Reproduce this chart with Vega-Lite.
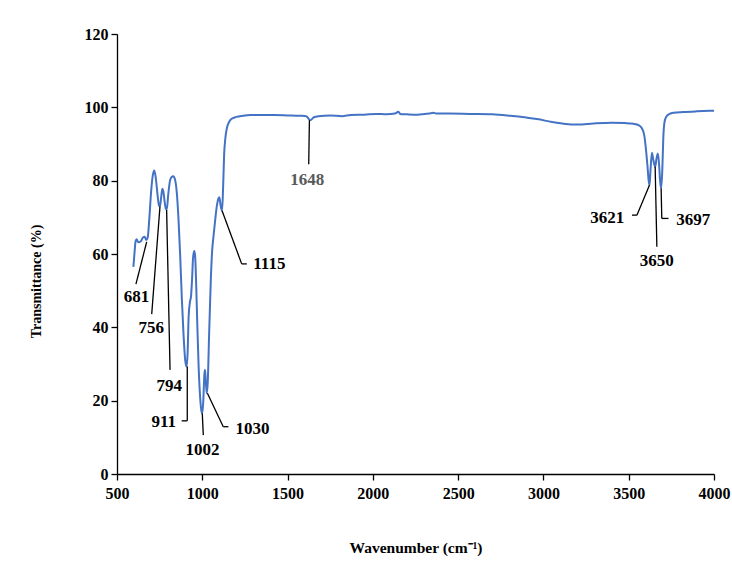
{
  "$schema": "https://vega.github.io/schema/vega-lite/v6.json",
  "width": 597,
  "height": 440,
  "autosize": "none",
  "padding": {"left": 117, "top": 34, "right": 18, "bottom": 97},
  "background": "white",
  "config": {
    "view": {"stroke": null},
    "font": "Liberation Serif",
    "axis": {
      "grid": false,
      "domainColor": "black",
      "domainWidth": 1.3,
      "tickColor": "black",
      "tickWidth": 1.3,
      "tickSize": 6,
      "labelFont": "Liberation Serif",
      "labelFontWeight": "bold",
      "labelFontSize": 16,
      "labelColor": "black",
      "labelFlush": false,
      "titleFont": "Liberation Serif",
      "titleFontWeight": "bold",
      "titleFontSize": 14,
      "titleColor": "black"
    }
  },
  "datasets": {
    "spectrum": [
      {"wavenumber": 596, "transmittance": 56.5},
      {"wavenumber": 603, "transmittance": 60.5},
      {"wavenumber": 609, "transmittance": 63.5},
      {"wavenumber": 615, "transmittance": 64},
      {"wavenumber": 625, "transmittance": 63.2},
      {"wavenumber": 640, "transmittance": 63.5},
      {"wavenumber": 652, "transmittance": 64.5},
      {"wavenumber": 662, "transmittance": 64.7},
      {"wavenumber": 672, "transmittance": 63.8},
      {"wavenumber": 680, "transmittance": 64.5},
      {"wavenumber": 690, "transmittance": 70},
      {"wavenumber": 700, "transmittance": 77},
      {"wavenumber": 710, "transmittance": 81.5},
      {"wavenumber": 719, "transmittance": 82.8},
      {"wavenumber": 728, "transmittance": 80.5},
      {"wavenumber": 738, "transmittance": 76},
      {"wavenumber": 746, "transmittance": 73.3},
      {"wavenumber": 752, "transmittance": 73},
      {"wavenumber": 759, "transmittance": 75.5},
      {"wavenumber": 766, "transmittance": 77.8},
      {"wavenumber": 772, "transmittance": 77},
      {"wavenumber": 780, "transmittance": 74},
      {"wavenumber": 787, "transmittance": 72.2},
      {"wavenumber": 792, "transmittance": 72.2},
      {"wavenumber": 800, "transmittance": 76},
      {"wavenumber": 810, "transmittance": 79.8},
      {"wavenumber": 820, "transmittance": 81},
      {"wavenumber": 830, "transmittance": 81.2},
      {"wavenumber": 840, "transmittance": 80.3},
      {"wavenumber": 850, "transmittance": 77},
      {"wavenumber": 860, "transmittance": 70},
      {"wavenumber": 870, "transmittance": 60},
      {"wavenumber": 880, "transmittance": 48},
      {"wavenumber": 890, "transmittance": 38},
      {"wavenumber": 900, "transmittance": 31},
      {"wavenumber": 908, "transmittance": 29.3},
      {"wavenumber": 914, "transmittance": 33},
      {"wavenumber": 920, "transmittance": 43},
      {"wavenumber": 928, "transmittance": 47},
      {"wavenumber": 934, "transmittance": 48.5},
      {"wavenumber": 940, "transmittance": 53},
      {"wavenumber": 946, "transmittance": 59},
      {"wavenumber": 953, "transmittance": 60.8},
      {"wavenumber": 958, "transmittance": 59.5},
      {"wavenumber": 964, "transmittance": 52},
      {"wavenumber": 970, "transmittance": 42},
      {"wavenumber": 978, "transmittance": 30},
      {"wavenumber": 986, "transmittance": 22},
      {"wavenumber": 994, "transmittance": 17.5},
      {"wavenumber": 1000, "transmittance": 16.5},
      {"wavenumber": 1006, "transmittance": 20},
      {"wavenumber": 1012, "transmittance": 27},
      {"wavenumber": 1016, "transmittance": 28.4},
      {"wavenumber": 1021, "transmittance": 25},
      {"wavenumber": 1026, "transmittance": 22},
      {"wavenumber": 1032, "transmittance": 25},
      {"wavenumber": 1040, "transmittance": 38},
      {"wavenumber": 1050, "transmittance": 53},
      {"wavenumber": 1058, "transmittance": 61},
      {"wavenumber": 1065, "transmittance": 64.5},
      {"wavenumber": 1075, "transmittance": 69},
      {"wavenumber": 1085, "transmittance": 73},
      {"wavenumber": 1095, "transmittance": 75.2},
      {"wavenumber": 1100, "transmittance": 75.5},
      {"wavenumber": 1108, "transmittance": 73},
      {"wavenumber": 1116, "transmittance": 71.8},
      {"wavenumber": 1122, "transmittance": 78},
      {"wavenumber": 1128, "transmittance": 87},
      {"wavenumber": 1135, "transmittance": 91.5},
      {"wavenumber": 1145, "transmittance": 94.5},
      {"wavenumber": 1155, "transmittance": 95.8},
      {"wavenumber": 1170, "transmittance": 96.8},
      {"wavenumber": 1200, "transmittance": 97.4},
      {"wavenumber": 1240, "transmittance": 97.7},
      {"wavenumber": 1280, "transmittance": 97.9},
      {"wavenumber": 1350, "transmittance": 97.9},
      {"wavenumber": 1420, "transmittance": 97.9},
      {"wavenumber": 1500, "transmittance": 97.8},
      {"wavenumber": 1573, "transmittance": 97.7},
      {"wavenumber": 1610, "transmittance": 97.6},
      {"wavenumber": 1632, "transmittance": 96.5},
      {"wavenumber": 1655, "transmittance": 97.3},
      {"wavenumber": 1680, "transmittance": 97.6},
      {"wavenumber": 1750, "transmittance": 97.8},
      {"wavenumber": 1820, "transmittance": 97.6},
      {"wavenumber": 1870, "transmittance": 97.9},
      {"wavenumber": 1950, "transmittance": 98.0},
      {"wavenumber": 2020, "transmittance": 98.2},
      {"wavenumber": 2080, "transmittance": 98.1},
      {"wavenumber": 2130, "transmittance": 98.3},
      {"wavenumber": 2150, "transmittance": 98.8},
      {"wavenumber": 2160, "transmittance": 98.2},
      {"wavenumber": 2200, "transmittance": 98.1},
      {"wavenumber": 2260, "transmittance": 98.0},
      {"wavenumber": 2330, "transmittance": 98.3},
      {"wavenumber": 2356, "transmittance": 98.5},
      {"wavenumber": 2370, "transmittance": 98.3},
      {"wavenumber": 2450, "transmittance": 98.3},
      {"wavenumber": 2570, "transmittance": 98.2},
      {"wavenumber": 2700, "transmittance": 98.1},
      {"wavenumber": 2805, "transmittance": 97.7},
      {"wavenumber": 2900, "transmittance": 97.2},
      {"wavenumber": 2962, "transmittance": 96.8},
      {"wavenumber": 3050, "transmittance": 96.0},
      {"wavenumber": 3120, "transmittance": 95.5},
      {"wavenumber": 3160, "transmittance": 95.3},
      {"wavenumber": 3200, "transmittance": 95.3},
      {"wavenumber": 3294, "transmittance": 95.6},
      {"wavenumber": 3400, "transmittance": 95.8},
      {"wavenumber": 3480, "transmittance": 95.7},
      {"wavenumber": 3528, "transmittance": 95.5},
      {"wavenumber": 3560, "transmittance": 95.1},
      {"wavenumber": 3577, "transmittance": 94.3},
      {"wavenumber": 3591, "transmittance": 92.4},
      {"wavenumber": 3600, "transmittance": 89},
      {"wavenumber": 3610, "transmittance": 84},
      {"wavenumber": 3617, "transmittance": 80},
      {"wavenumber": 3622, "transmittance": 78.8},
      {"wavenumber": 3628, "transmittance": 83},
      {"wavenumber": 3636, "transmittance": 87.6},
      {"wavenumber": 3645, "transmittance": 85.5},
      {"wavenumber": 3655, "transmittance": 83.8},
      {"wavenumber": 3663, "transmittance": 86},
      {"wavenumber": 3671, "transmittance": 87.4},
      {"wavenumber": 3678, "transmittance": 84.5},
      {"wavenumber": 3684, "transmittance": 80},
      {"wavenumber": 3690, "transmittance": 77.9},
      {"wavenumber": 3697, "transmittance": 83},
      {"wavenumber": 3703, "transmittance": 92},
      {"wavenumber": 3710, "transmittance": 96},
      {"wavenumber": 3720, "transmittance": 97.4},
      {"wavenumber": 3740, "transmittance": 98.2},
      {"wavenumber": 3763, "transmittance": 98.5},
      {"wavenumber": 3820, "transmittance": 98.7},
      {"wavenumber": 3900, "transmittance": 98.9},
      {"wavenumber": 4000, "transmittance": 99.1}
    ],
    "leaders": [
      {"x1": 674, "y1": 63.3, "x2": 611, "y2": 51.8},
      {"x1": 752, "y1": 73, "x2": 703.5, "y2": 43.6},
      {"x1": 791, "y1": 72, "x2": 811, "y2": 28.4},
      {"x1": 912, "y1": 29.3, "x2": 912, "y2": 14.5},
      {"x1": 912, "y1": 14.5, "x2": 879, "y2": 14.5},
      {"x1": 1000, "y1": 16.5, "x2": 1006, "y2": 10.6},
      {"x1": 1030, "y1": 22, "x2": 1123, "y2": 12.9},
      {"x1": 1123, "y1": 12.9, "x2": 1153, "y2": 12.9},
      {"x1": 1116, "y1": 71.8, "x2": 1231, "y2": 57.3},
      {"x1": 1231, "y1": 57.3, "x2": 1261, "y2": 57.3},
      {"x1": 1628, "y1": 96.5, "x2": 1624, "y2": 84.5},
      {"x1": 3622, "y1": 78.8, "x2": 3548, "y2": 70.6},
      {"x1": 3548, "y1": 70.6, "x2": 3519, "y2": 70.6},
      {"x1": 3655, "y1": 83.8, "x2": 3665, "y2": 62},
      {"x1": 3690, "y1": 77.9, "x2": 3694, "y2": 69.7},
      {"x1": 3694, "y1": 69.7, "x2": 3733, "y2": 69.7}
    ],
    "labels": [
      {"label": "681", "x": 614, "y": 48.3},
      {"label": "756", "x": 701, "y": 39.7},
      {"label": "794", "x": 806, "y": 24.1},
      {"label": "911", "x": 774, "y": 14.3},
      {"label": "1002", "x": 1001, "y": 6.5},
      {"label": "1030", "x": 1295, "y": 12.4},
      {"label": "1115", "x": 1393, "y": 57.3},
      {"label": "1648", "x": 1616, "y": 80.2},
      {"label": "3621", "x": 3374, "y": 69.7},
      {"label": "3650", "x": 3665, "y": 58.2},
      {"label": "3697", "x": 3878, "y": 69.3}
    ]
  },
  "layer": [
    {
      "data": {"name": "spectrum"},
      "mark": {"type": "line", "color": "#4472C4", "strokeWidth": 2, "interpolate": "monotone"},
      "encoding": {
        "x": {
          "field": "wavenumber",
          "type": "quantitative",
          "scale": {"domain": [500, 4000], "nice": false},
          "axis": {
            "values": [500, 1000, 1500, 2000, 2500, 3000, 3500, 4000],
            "format": "d",
            "labelPadding": 5,
            "title": "Wavenumber (cm⁻¹)",
            "titleFontSize": 15.5,
            "titlePadding": 39
          }
        },
        "y": {
          "field": "transmittance",
          "type": "quantitative",
          "scale": {"domain": [0, 120], "nice": false},
          "axis": {
            "values": [0, 20, 40, 60, 80, 100, 120],
            "format": "d",
            "labelPadding": 3,
            "title": "Transmittance (%)",
            "titleX": -81,
            "titleY": 247,
            "titleBaseline": "middle",
            "titleAngle": -90,
            "titleAlign": "center"
          }
        }
      }
    },
    {
      "data": {"name": "leaders"},
      "mark": {"type": "rule", "color": "black", "strokeWidth": 1.3},
      "encoding": {
        "x": {"field": "x1", "type": "quantitative"},
        "y": {"field": "y1", "type": "quantitative"},
        "x2": {"field": "x2"},
        "y2": {"field": "y2"}
      }
    },
    {
      "data": {"name": "labels"},
      "mark": {"type": "text", "font": "Liberation Serif", "fontWeight": "bold", "fontSize": 17, "baseline": "middle", "align": "center"},
      "encoding": {
        "x": {"field": "x", "type": "quantitative"},
        "y": {"field": "y", "type": "quantitative"},
        "text": {"field": "label", "type": "nominal"},
        "color": {"condition": {"test": "datum.label === '1648'", "value": "#595959"}, "value": "black"}
      }
    }
  ]
}
